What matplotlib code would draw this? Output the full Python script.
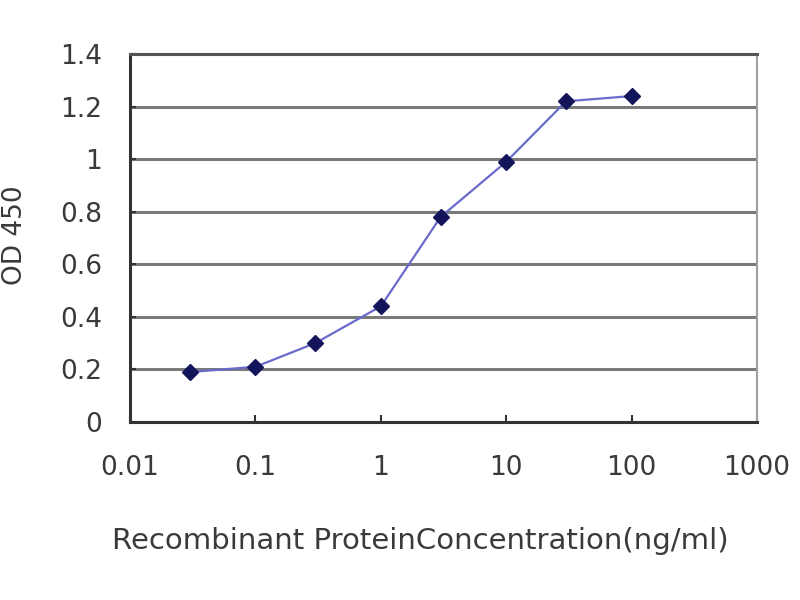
import matplotlib
matplotlib.use("Agg")
import matplotlib.pyplot as plt
from matplotlib.ticker import FixedLocator, FixedFormatter, NullLocator

concentration = [0.03, 0.1, 0.3, 1, 3, 10, 30, 100]
od450 = [0.19, 0.21, 0.30, 0.44, 0.78, 0.99, 1.22, 1.24]
x_ticks = [0.01, 0.1, 1, 10, 100, 1000]
x_tick_labels = ["0.01", "0.1", "1", "10", "100", "1000"]
y_ticks = [0, 0.2, 0.4, 0.6, 0.8, 1.0, 1.2, 1.4]
y_tick_labels = ["0", "0.2", "0.4", "0.6", "0.8", "1", "1.2", "1.4"]

plt.rcParams['font.family'] = ['DejaVu Sans']

fig = plt.figure(figsize=(8, 6), dpi=100)
ax = fig.add_axes([130/800, 1-422/600, 627/800, 368/600])

ax.set_xscale('log')
ax.set_xlim(0.01, 1000)
ax.set_ylim(0, 1.4)

for y in y_ticks[1:]:
    ax.axhline(y, color='#7a7a7a', lw=2.2, zorder=1)

ax.plot(concentration, od450, color='#6a6acc', lw=1.6, zorder=3)
ax.plot(concentration, od450, linestyle='none', marker='D', markersize=8,
        color='#14145a', zorder=4)

ax.xaxis.set_major_locator(FixedLocator(x_ticks))
ax.xaxis.set_major_formatter(FixedFormatter(x_tick_labels))
ax.xaxis.set_minor_locator(NullLocator())
ax.yaxis.set_major_locator(FixedLocator(y_ticks))
ax.yaxis.set_major_formatter(FixedFormatter(y_tick_labels))

ax.tick_params(axis='x', direction='in', length=5, width=1.5, color='#333333',
               labelsize=19, pad=24, labelcolor='#3a3a3a')
ax.tick_params(axis='y', direction='in', length=4, width=1.5, color='#333333',
               labelsize=19, pad=20, labelcolor='#3a3a3a')

for side in ['left', 'bottom']:
    ax.spines[side].set_color('#333333')
    ax.spines[side].set_linewidth(2.2)
ax.spines['top'].set_color('#555555')
ax.spines['top'].set_linewidth(2.2)
ax.spines['right'].set_color('#a0a0a0')
ax.spines['right'].set_linewidth(1.5)

ax.set_xlabel("Recombinant ProteinConcentration(ng/ml)", fontsize=21, color='#3a3a3a')
ax.xaxis.set_label_coords(0.4625, -0.285)
ax.set_ylabel("OD 450", fontsize=19, color='#3a3a3a')
ax.yaxis.set_label_coords(-0.163, 0.508)

fig.savefig("out.png", dpi=100, facecolor='white')
